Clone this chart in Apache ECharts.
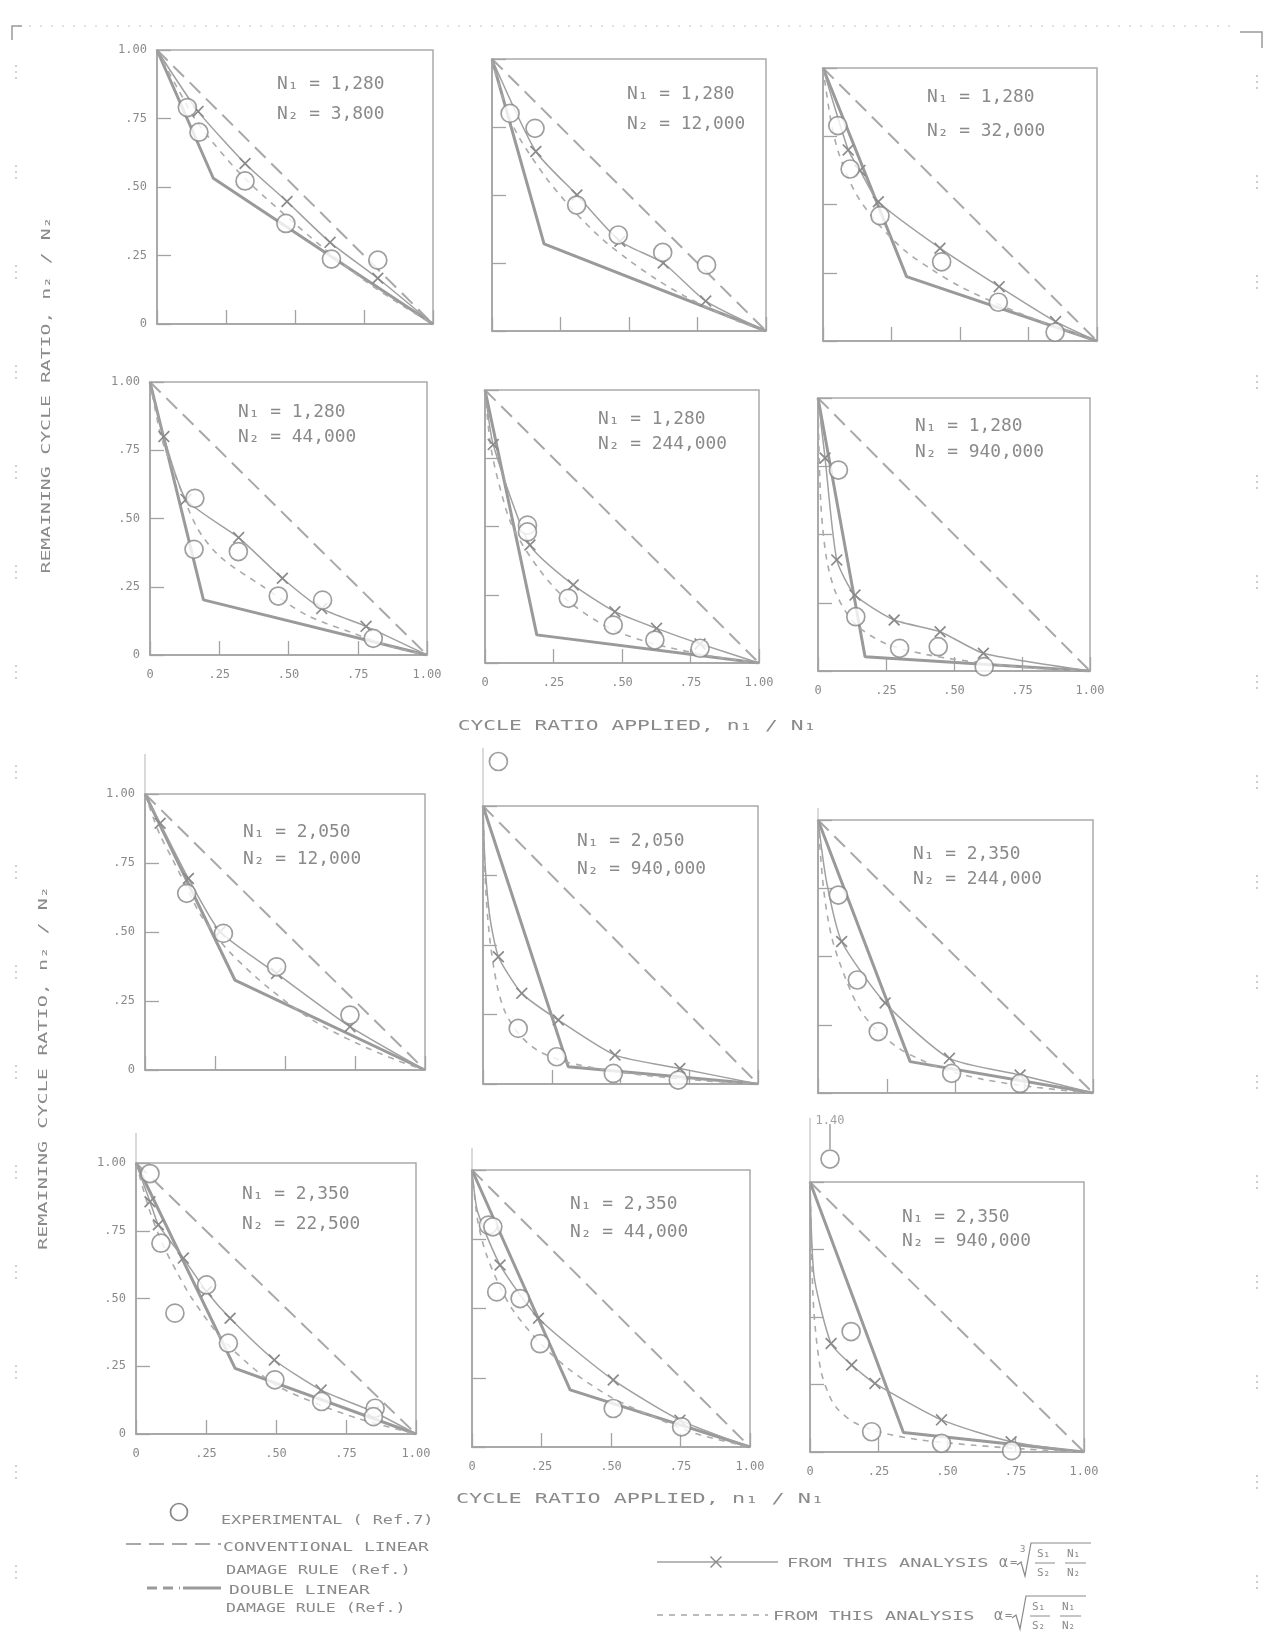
<!DOCTYPE html>
<html><head><meta charset="utf-8">
<script src="https://cdn.jsdelivr.net/npm/echarts@6/dist/echarts.min.js"></script>
<style>html,body{margin:0;padding:0;background:#fff}#c{width:1275px;height:1649px}</style>
</head><body><div id="c"></div>
<script>
// ---------------- DATA ----------------
const xTickLabels = ['0', '.25', '.50', '.75', '1.00'];
const yTickLabels = ['0', '.25', '.50', '.75', '1.00'];
const panelN1 = ['1,280','1,280','1,280','1,280','1,280','1,280','2,050','2,050','2,350','2,350','2,350','2,350'];
const panelN2 = ['3,800','12,000','32,000','44,000','244,000','940,000','12,000','940,000','244,000','22,500','44,000','940,000'];
const linearRule = [[0, 1], [1, 0]];

// experimental points (n1/N1, n2/N2)
const exp1 = [[0.11,0.79],[0.152,0.70],[0.319,0.522],[0.467,0.367],[0.632,0.237],[0.80,0.233]];
const exp2 = [[0.066,0.80],[0.157,0.745],[0.309,0.463],[0.461,0.353],[0.623,0.289],[0.783,0.243]];
const exp3 = [[0.054,0.789],[0.099,0.63],[0.208,0.459],[0.433,0.29],[0.64,0.142],[0.847,0.032]];
const exp4 = [[0.162,0.574],[0.159,0.387],[0.319,0.379],[0.463,0.216],[0.623,0.201],[0.806,0.061]];
const exp5 = [[0.155,0.505],[0.155,0.48],[0.304,0.237],[0.468,0.139],[0.62,0.084],[0.785,0.054]];
const exp6 = [[0.075,0.736],[0.139,0.199],[0.30,0.083],[0.442,0.089],[0.611,0.016]];
const exp7 = [[0.149,0.64],[0.28,0.495],[0.47,0.374],[0.732,0.199]];
const exp8 = [[0.056,1.16],[0.128,0.2],[0.268,0.098],[0.474,0.038],[0.71,0.014]];
const exp9 = [[0.074,0.725],[0.143,0.414],[0.219,0.225],[0.486,0.072],[0.735,0.035]];
const exp10 = [[0.05,0.961],[0.089,0.704],[0.139,0.446],[0.252,0.55],[0.33,0.335],[0.496,0.2],[0.663,0.12],[0.854,0.095],[0.848,0.064]];
const exp11 = [[0.059,0.801],[0.075,0.795],[0.089,0.56],[0.173,0.536],[0.245,0.373],[0.508,0.139],[0.754,0.073]];
const exp12 = [[0.073,1.085],[0.15,0.446],[0.225,0.075],[0.48,0.032],[0.736,0.005]];
const outlierLabel12 = '1.40';

// this analysis, alpha = cube root
const cube1 = [[0,1],[0.149,0.776],[0.319,0.586],[0.471,0.447],[0.627,0.298],[0.80,0.167],[1,0]];
const cube2 = [[0,1],[0.16,0.66],[0.31,0.5],[0.467,0.33],[0.625,0.25],[0.78,0.11],[1,0]];
const cube3 = [[0,1],[0.092,0.70],[0.135,0.625],[0.202,0.51],[0.427,0.34],[0.643,0.199],[0.849,0.071],[1,0]];
const cube4 = [[0,1],[0.05,0.8],[0.13,0.57],[0.32,0.43],[0.478,0.281],[0.62,0.17],[0.78,0.105],[1,0]];
const cube5 = [[0,1],[0.03,0.8],[0.164,0.432],[0.322,0.286],[0.474,0.188],[0.626,0.127],[0.785,0.07],[1,0]];
const cube6 = [[0,1],[0.026,0.78],[0.069,0.407],[0.136,0.278],[0.28,0.187],[0.449,0.144],[0.608,0.065],[1,0]];
const cube7 = [[0,1],[0.054,0.894],[0.155,0.694],[0.268,0.501],[0.47,0.35],[0.732,0.157],[1,0]];
const cube8 = [[0,1],[0.007,0.8],[0.025,0.6],[0.056,0.458],[0.141,0.326],[0.274,0.23],[0.48,0.104],[0.716,0.056],[1,0]];
const cube9 = [[0,1],[0.03,0.78],[0.086,0.555],[0.244,0.33],[0.478,0.127],[0.735,0.066],[1,0]];
const cube10 = [[0,1],[0.05,0.857],[0.08,0.772],[0.169,0.649],[0.252,0.526],[0.336,0.427],[0.494,0.273],[0.661,0.162],[0.848,0.082],[1,0]];
const cube11 = [[0,1],[0.02,0.85],[0.101,0.657],[0.239,0.465],[0.508,0.242],[0.748,0.097],[1,0]];
const cube12 = [[0,1],[0.015,0.65],[0.077,0.402],[0.152,0.322],[0.237,0.254],[0.48,0.119],[0.734,0.038],[1,0]];
const cubeAll = [cube1,cube2,cube3,cube4,cube5,cube6,cube7,cube8,cube9,cube10,cube11,cube12];
// indices of curve points that carry no X mark (end points always unmarked)
const cubeUnmarked = [[],[],[],[],[],[],[],[1,2],[1],[],[1],[1]];

// this analysis, alpha = square root (short dashed)
const sqrt1 = [[0,1],[0.08,0.85],[0.15,0.73],[0.3,0.55],[0.45,0.41],[0.6,0.28],[0.75,0.16],[0.9,0.06],[1,0]];
const sqrt2 = [[0,1],[0.05,0.82],[0.1,0.71],[0.2,0.56],[0.3,0.44],[0.4,0.34],[0.5,0.26],[0.6,0.19],[0.7,0.13],[0.8,0.08],[0.9,0.035],[1,0]];
const sqrt3 = [[0,1],[0.03,0.8],[0.06,0.68],[0.12,0.54],[0.2,0.43],[0.3,0.33],[0.4,0.26],[0.5,0.2],[0.65,0.13],[0.8,0.07],[1,0]];
const sqrt4 = [[0,1],[0.04,0.8],[0.084,0.678],[0.168,0.47],[0.253,0.36],[0.409,0.25],[0.566,0.146],[0.734,0.08],[0.87,0.03],[1,0]];
const sqrt5 = [[0,1],[0.02,0.8],[0.05,0.66],[0.1,0.5],[0.2,0.34],[0.3,0.23],[0.45,0.13],[0.6,0.075],[0.8,0.03],[1,0]];
const sqrt6 = [[0,1],[0.01,0.62],[0.03,0.42],[0.06,0.3],[0.1,0.22],[0.15,0.16],[0.25,0.1],[0.4,0.06],[0.6,0.03],[0.8,0.01],[1,0]];
const sqrt7 = [[0,1],[0.05,0.86],[0.1,0.76],[0.15,0.66],[0.2,0.56],[0.3,0.43],[0.45,0.29],[0.6,0.18],[0.75,0.1],[0.9,0.035],[1,0]];
const sqrt8 = [[0,1],[0.01,0.7],[0.025,0.52],[0.05,0.36],[0.08,0.26],[0.13,0.18],[0.2,0.12],[0.3,0.08],[0.45,0.05],[0.6,0.03],[0.8,0.012],[1,0]];
const sqrt9 = [[0,1],[0.02,0.75],[0.05,0.57],[0.1,0.42],[0.15,0.31],[0.2,0.245],[0.3,0.16],[0.45,0.09],[0.6,0.05],[0.8,0.02],[1,0]];
const sqrt10 = [[0,1],[0.05,0.82],[0.1,0.69],[0.15,0.59],[0.2,0.5],[0.3,0.36],[0.4,0.26],[0.5,0.18],[0.65,0.11],[0.8,0.055],[1,0]];
const sqrt11 = [[0,1],[0.02,0.82],[0.05,0.7],[0.1,0.58],[0.15,0.49],[0.25,0.37],[0.35,0.28],[0.5,0.18],[0.65,0.11],[0.8,0.05],[1,0]];
const sqrt12 = [[0,1],[0.01,0.6],[0.02,0.45],[0.04,0.3],[0.07,0.21],[0.1,0.16],[0.16,0.11],[0.25,0.075],[0.4,0.045],[0.6,0.025],[0.8,0.01],[1,0]];
const sqrtAll = [sqrt1,sqrt2,sqrt3,sqrt4,sqrt5,sqrt6,sqrt7,sqrt8,sqrt9,sqrt10,sqrt11,sqrt12];

// double linear damage rule knee points
const knee1 = [0.204,0.532];
const knee2 = [0.19,0.32];
const knee3 = [0.305,0.236];
const knee4 = [0.193,0.202];
const knee5 = [0.189,0.103];
const knee6 = [0.173,0.052];
const knee7 = [0.321,0.326];
const knee8 = [0.31,0.062];
const knee9 = [0.335,0.115];
const knee10 = [0.354,0.242];
const knee11 = [0.353,0.206];
const knee12 = [0.341,0.072];
const kneeAll = [knee1,knee2,knee3,knee4,knee5,knee6,knee7,knee8,knee9,knee10,knee11,knee12];
const expAll = [exp1,exp2,exp3,exp4,exp5,exp6,exp7,exp8,exp9,exp10,exp11,exp12];

// ---------------- LAYOUT ----------------
const boxes = [
  [157,50,276,274],[492,59,274,272],[823,68,274,273],
  [150,382,277,273],[485,390,274,273],[818,398,272,273],
  [145,794,280,276],[483,806,275,278],[818,820,275,273],
  [136,1163,280,271],[472,1170,278,277],[810,1182,274,270]
];
const labelOffsets = [[120,35,65],[135,36,66],[104,30,64],[88,31,56],[113,30,55],[97,29,55],[98,39,66],[94,36,64],[95,35,60],[106,32,62],[98,35,63],[92,36,60]];

const FONT = '"DejaVu Sans Mono", "Liberation Mono", monospace';
const INK = '#8a8a8a';
const XSYM = 'path://M0,1 L1,0 L5,4 L9,0 L10,1 L6,5 L10,9 L9,10 L5,6 L1,10 L0,9 L4,5 Z';

const grids = [], xAxes = [], yAxes = [], series = [], graphics = [];
boxes.forEach((b, i) => {
  const col = i % 3, row = Math.floor(i / 3);
  grids.push({left:b[0], top:b[1], width:b[2], height:b[3], show:true, borderColor:'#ababab', borderWidth:1.5, backgroundColor:'transparent'});
  xAxes.push({gridIndex:i, type:'value', min:0, max:1, interval:0.25,
    axisLine:{show:true, onZero:false, lineStyle:{color:'#a3a3a3', width:1.5}},
    axisTick:{show:true, inside:true, length:14, lineStyle:{color:'#a3a3a3', width:1.3}},
    axisLabel:{show: row === 1 || row === 3, margin:14, color:INK, fontFamily:FONT, fontSize:12,
      formatter: v => xTickLabels[Math.round(v * 4)]},
    splitLine:{show:false}});
  yAxes.push({gridIndex:i, type:'value', min:0, max:1, interval:0.25,
    axisLine:{show:true, onZero:false, lineStyle:{color:'#a3a3a3', width:1.5}},
    axisTick:{show:true, inside:true, length:14, lineStyle:{color:'#a3a3a3', width:1.3}},
    axisLabel:{show: col === 0, margin:10, color:INK, fontFamily:FONT, fontSize:12,
      formatter: v => yTickLabels[Math.round(v * 4)]},
    splitLine:{show:false}});
  series.push({type:'line', xAxisIndex:i, yAxisIndex:i, data:linearRule, symbol:'none', silent:true,
    lineStyle:{color:'#a8a8a8', width:2, type:[15,8]}, z:2});
  series.push({type:'line', xAxisIndex:i, yAxisIndex:i, data:[[0,1], kneeAll[i], [1,0]], symbol:'none', silent:true,
    lineStyle:{color:'#9a9a9a', width:3}, z:2});
  series.push({type:'line', xAxisIndex:i, yAxisIndex:i, data:sqrtAll[i], symbol:'none', smooth:0.3, silent:true,
    lineStyle:{color:'#ababab', width:1.6, type:[6,6]}, z:3});
  const cube = cubeAll[i];
  series.push({type:'line', xAxisIndex:i, yAxisIndex:i, smooth:0.2, silent:true,
    data: cube.map((p, k) => ({value:p,
      symbol: (k === 0 || k === cube.length - 1 || cubeUnmarked[i].indexOf(k) >= 0) ? 'none' : XSYM})),
    symbolSize:12, showAllSymbol:true,
    itemStyle:{color:'#8a8a8a'},
    lineStyle:{color:'#a0a0a0', width:1.5}, z:4});
  series.push({type:'scatter', xAxisIndex:i, yAxisIndex:i, clip:false, silent:true,
    data: expAll[i].map(p => {
      const item = {value:p};
      if (i === 11 && p[1] > 1) {
        item.label = {show:true, formatter:outlierLabel12, position:'top', distance:22, color:INK, fontFamily:FONT, fontSize:12};
      }
      return item;
    }),
    symbol:'circle', symbolSize:18,
    itemStyle:{color:'#ffffff', borderColor:'#868686', borderWidth:1.7}, z:5});
  const o = labelOffsets[i];
  graphics.push({type:'text', x:b[0] + o[0], y:b[1] + o[1], scaleX:1.05,
    style:{text:'N\u2081 = ' + panelN1[i], font:'17px ' + FONT, fill:INK, align:'left', verticalAlign:'middle', textAlign:'left', textVerticalAlign:'middle'}});
  graphics.push({type:'text', x:b[0] + o[0], y:b[1] + o[2], scaleX:1.05,
    style:{text:'N\u2082 = ' + panelN2[i], font:'17px ' + FONT, fill:INK, align:'left', verticalAlign:'middle', textAlign:'left', textVerticalAlign:'middle'}});
});

[[6,40],[7,58],[8,12],[9,30],[10,22],[11,64]].forEach(s => {
  const b = boxes[s[0]];
  graphics.push({type:'line', shape:{x1:b[0], y1:b[1] - s[1], x2:b[0], y2:b[1]}, style:{stroke:'#b5b5b5', lineWidth:1}});
});
graphics.push({type:'line', shape:{x1:boxes[11][0]+20, y1:boxes[11][1]-58, x2:boxes[11][0]+20, y2:boxes[11][1]-33}, style:{stroke:'#a0a0a0', lineWidth:1.5}});

function txt(t, x, y, size, opts) {
  opts = opts || {};
  graphics.push({type:'text', x:x, y:y, scaleX:opts.sx || 1, rotation:opts.rot || 0,
    style:{text:t, font:size + 'px ' + FONT, fill:opts.fill || INK, align:opts.align || 'left', verticalAlign:'middle',
      textAlign:opts.align || 'left', textVerticalAlign:'middle'}});
}
txt('CYCLE RATIO APPLIED, n\u2081 / N\u2081', 637, 726, 14, {sx:1.52, align:'center'});
txt('CYCLE RATIO APPLIED, n\u2081 / N\u2081', 640, 1499, 14, {sx:1.56, align:'center'});
txt('REMAINING CYCLE RATIO, n\u2082 / N\u2082', 47, 395, 13, {sx:1.52, align:'center', rot:Math.PI/2});
txt('REMAINING CYCLE RATIO, n\u2082 / N\u2082', 44, 1068, 13, {sx:1.55, align:'center', rot:Math.PI/2});

// legend (left)
graphics.push({type:'circle', shape:{cx:179, cy:1512, r:8.5}, style:{stroke:'#868686', lineWidth:1.7, fill:'#fff'}});
txt('EXPERIMENTAL ( Ref.7)', 221, 1521, 12, {sx:1.4});
graphics.push({type:'line', shape:{x1:126, y1:1544, x2:221, y2:1544}, style:{stroke:'#a8a8a8', lineWidth:2, lineDash:[15,8]}});
txt('CONVENTIONAL LINEAR', 223, 1548, 12, {sx:1.5});
txt('DAMAGE RULE (Ref.)', 226, 1571, 12, {sx:1.42});
graphics.push({type:'line', shape:{x1:147, y1:1588, x2:180, y2:1588}, style:{stroke:'#9a9a9a', lineWidth:3, lineDash:[10,6]}});
graphics.push({type:'line', shape:{x1:183, y1:1588, x2:221, y2:1588}, style:{stroke:'#9a9a9a', lineWidth:3}});
txt('DOUBLE LINEAR', 229, 1591, 12, {sx:1.5});
txt('DAMAGE RULE (Ref.)', 226, 1609, 12, {sx:1.38});

// legend (right)
graphics.push({type:'line', shape:{x1:657, y1:1562, x2:778, y2:1562}, style:{stroke:'#a0a0a0', lineWidth:1.5}});
graphics.push({type:'polygon', shape:{points:[[710,1557],[711,1556],[716,1561],[721,1556],[722,1557],[717,1562],[722,1567],[721,1568],[716,1563],[711,1568],[710,1567],[715,1562]]}, style:{fill:'#8a8a8a'}});
txt('FROM THIS ANALYSIS', 787, 1564, 12, {sx:1.55});
graphics.push({type:'line', shape:{x1:657, y1:1615, x2:768, y2:1615}, style:{stroke:'#ababab', lineWidth:1.6, lineDash:[6,6]}});
txt('FROM THIS ANALYSIS', 773, 1617, 12, {sx:1.55});
function formula(x0, y, idx) {
  txt('\u03b1', x0, y, 15);
  txt('=', x0 + 11, y, 12);
  graphics.push({type:'polyline', shape:{points:[[x0+18,y+2],[x0+22,y-1],[x0+26,y+13],[x0+32,y-20],[x0+92,y-20]]}, style:{stroke:INK, lineWidth:1.2, fill:null}});
  if (idx) txt(idx, x0 + 21, y - 13, 9);
  txt('S\u2081', x0 + 38, y - 9, 11);
  txt('S\u2082', x0 + 38, y + 10, 11);
  graphics.push({type:'line', shape:{x1:x0+36, y1:y, x2:x0+56, y2:y}, style:{stroke:INK, lineWidth:1}});
  txt('N\u2081', x0 + 68, y - 9, 11);
  txt('N\u2082', x0 + 68, y + 10, 11);
  graphics.push({type:'line', shape:{x1:x0+66, y1:y, x2:x0+87, y2:y}, style:{stroke:INK, lineWidth:1}});
}
formula(999, 1563, '3');
formula(994, 1616, '');

// page frame artefacts (dotted)
graphics.push({type:'line', shape:{x1:18, y1:26, x2:1235, y2:26}, style:{stroke:'#c4c4c4', lineWidth:1.2, lineDash:[2,9]}});
graphics.push({type:'polyline', shape:{points:[[12,40],[12,26],[22,26]]}, style:{stroke:'#9a9a9a', lineWidth:1.5, fill:null}});
graphics.push({type:'polyline', shape:{points:[[1240,32],[1262,32],[1262,48]]}, style:{stroke:'#9a9a9a', lineWidth:1.5, fill:null}});
for (let y = 60; y < 1640; y += 100) {
  graphics.push({type:'line', shape:{x1:1257, y1:y + 15, x2:1257, y2:y + 30}, style:{stroke:'#bdbdbd', lineWidth:1.5, lineDash:[2,4]}});
  graphics.push({type:'line', shape:{x1:16, y1:y + 5, x2:16, y2:y + 20}, style:{stroke:'#c6c6c6', lineWidth:1.5, lineDash:[2,4]}});
}

const chart = echarts.init(document.getElementById('c'), null, {renderer:'canvas', width:1275, height:1649});
chart.setOption({
  backgroundColor:'#ffffff',
  animation:false,
  grid:grids, xAxis:xAxes, yAxis:yAxes, series:series,
  graphic:{elements:graphics}
});
</script></body></html>
